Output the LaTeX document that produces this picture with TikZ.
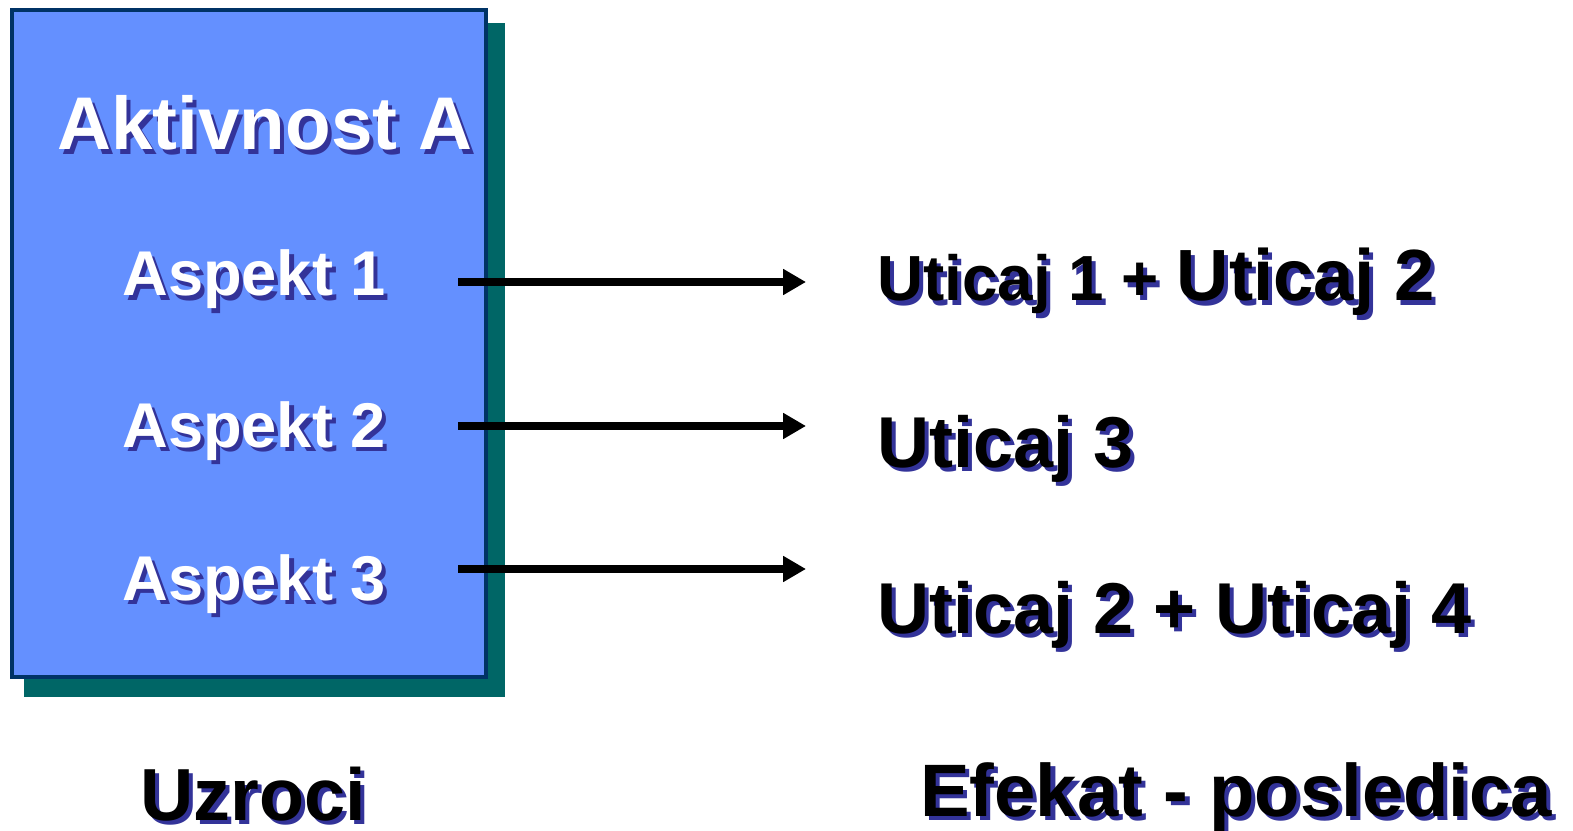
\documentclass[tikz,border=0pt]{standalone}
\usepackage{fontspec}
\setmainfont{Liberation Sans}
\usetikzlibrary{arrows.meta}
\definecolor{boxblue}{HTML}{6490FF}
\definecolor{boxedge}{HTML}{003366}
\definecolor{boxshadow}{HTML}{006666}
\definecolor{txtshadow}{HTML}{333399}
% text with a shifted blue copy behind it
\newcommand{\shd}[2]{{\color{txtshadow}\rlap{\hspace{2.3pt}\raisebox{-2.3pt}{#2}}}{\color{#1}#2}}
\tikzset{
	lbl/.style={inner sep=0pt, anchor=base west},
	arr/.style={line width=4pt, -{Triangle[length=13pt,width=14pt]}}
}
\begin{document}
\begin{tikzpicture}[x=0.02cm,y=-0.02cm]
		\useasboundingbox (0,0) rectangle (1573,831);
		\fill [boxshadow] (24,23) rectangle (505,697);
		\filldraw [fill=boxblue, draw=boxedge, line width=2.8pt] (12,10) rectangle (486,677);
		\node [lbl, font=\bfseries\fontsize{42.5}{50}\selectfont] (aktivnost) at (57,150) {\shd{white}{Aktivnost A}};
		\node [lbl, font=\bfseries\fontsize{36}{44}\selectfont] (aspekt1) at (122,296) {\shd{white}{Aspekt 1}};
		\node [lbl, font=\bfseries\fontsize{36}{44}\selectfont] (aspekt2) at (122,447) {\shd{white}{Aspekt 2}};
		\node [lbl, font=\bfseries\fontsize{36}{44}\selectfont] (aspekt3) at (122,600) {\shd{white}{Aspekt 3}};
		\coordinate (s1) at (458,282);
		\coordinate (e1) at (806,282);
		\coordinate (s2) at (458,426);
		\coordinate (e2) at (806,426);
		\coordinate (s3) at (458,569);
		\coordinate (e3) at (806,569);
		\draw [arr] (s1) -- (e1);
		\draw [arr] (s2) -- (e2);
		\draw [arr] (s3) -- (e3);
		\node [lbl, font=\bfseries\fontsize{36.3}{44}\selectfont] (uticaj1) at (877,301) {\shd{black}{Uticaj 1 +} {\fontsize{41.3}{50}\selectfont\shd{black}{Uticaj 2}}};
		\node [lbl, font=\bfseries\fontsize{41}{50}\selectfont] (uticaj2) at (877,467) {\shd{black}{Uticaj 3}};
		\node [lbl, font=\bfseries\fontsize{41}{50}\selectfont] (uticaj3) at (877,633) {\shd{black}{Uticaj 2 + Uticaj 4}};
		\node [lbl, font=\bfseries\fontsize{42}{50}\selectfont] (uzroci) at (140,820) {\shd{black}{Uzroci}};
		\node [lbl, font=\bfseries\fontsize{42.3}{50}\selectfont] (efekat) at (920,816) {\shd{black}{Efekat - posledica}};
	\end{tikzpicture}
\end{document}
